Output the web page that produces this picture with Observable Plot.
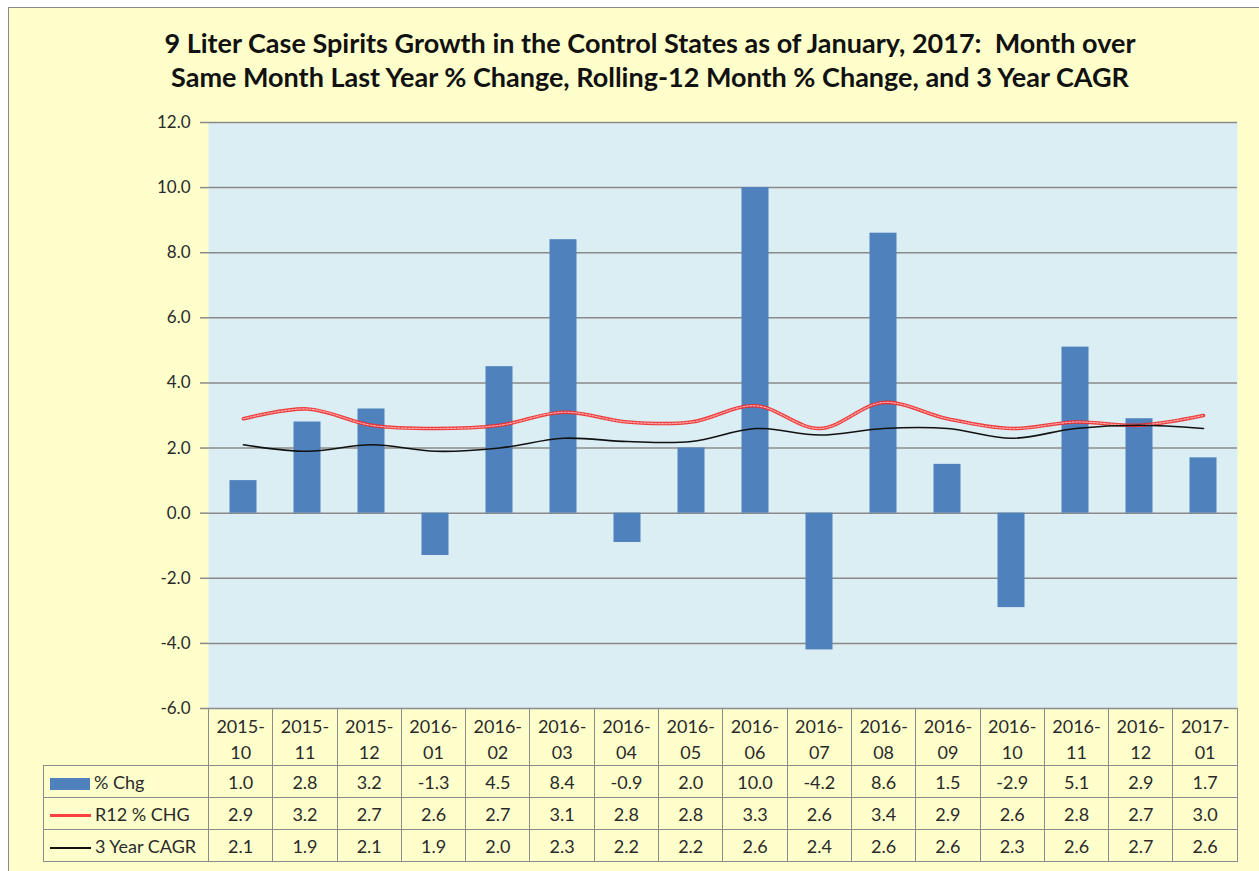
<!DOCTYPE html>
<html>
<head>
<meta charset="utf-8">
<script src="https://cdn.jsdelivr.net/npm/d3@7"></script>
<script src="https://cdn.jsdelivr.net/npm/@observablehq/plot@0.6"></script>
<style>
  html, body { margin: 0; padding: 0; background: #ffffff; }
  body { width: 1259px; height: 871px; overflow: hidden; position: relative; font-family: "Lato", "Open Sans", sans-serif; }
  #frame { position: absolute; left: 8px; top: 7px; width: 1300px; height: 900px; background: #FFFFCC; border: 1px solid #8a8a8a; }
  #title { position: absolute; left: 0; top: 26px; width: 1300px; text-align: center; font-weight: bold; font-size: 27px; line-height: 34px; color: #111; letter-spacing: 0px; }
  #chart { position: absolute; left: 0; top: 100px; }
  #table { position: absolute; left: 43px; top: 708px; border-collapse: collapse; table-layout: fixed; font-size: 18px; color: #2a2a2a; }
  #table td { border: 1.5px solid #8c8c8c; text-align: center; padding: 0; }
  #table td.corner { border-top: none; border-left: none; }
  #table tr.head td { height: 53px; line-height: 26px; padding-top: 3px; }
  #table tr.row td { height: 31px; }
  #table td.lab { text-align: left; padding-left: 6px; white-space: nowrap; }
  .sw { display: inline-block; vertical-align: middle; margin-right: 4px; }
</style>
</head>
<body>
<div id="frame"></div>
<div id="title">9 Liter Case Spirits Growth in the Control States as of January, 2017:&nbsp; Month over<br>Same Month Last Year % Change, Rolling-12 Month % Change, and 3 Year CAGR</div>
<div id="chart"></div>
<table id="table"></table>
<script>
const months = ["2015-10","2015-11","2015-12","2016-01","2016-02","2016-03","2016-04","2016-05","2016-06","2016-07","2016-08","2016-09","2016-10","2016-11","2016-12","2017-01"];
const pctChg = [1.0, 2.8, 3.2, -1.3, 4.5, 8.4, -0.9, 2.0, 10.0, -4.2, 8.6, 1.5, -2.9, 5.1, 2.9, 1.7];
const r12Chg = [2.9, 3.2, 2.7, 2.6, 2.7, 3.1, 2.8, 2.8, 3.3, 2.6, 3.4, 2.9, 2.6, 2.8, 2.7, 3.0];
const cagr3 = [2.1, 1.9, 2.1, 1.9, 2.0, 2.3, 2.2, 2.2, 2.6, 2.4, 2.6, 2.6, 2.3, 2.6, 2.7, 2.6];
const yTicks = [-6, -4, -2, 0, 2, 4, 6, 8, 10, 12];
const seriesNames = ["% Chg", "R12 % CHG", "3 Year CAGR"];

const rows = months.map((m, i) => ({m, chg: pctChg[i], r12: r12Chg[i], cagr: cagr3[i]}));
const fmt = v => v.toFixed(1);

const colW = 64.3;
const chart = Plot.plot({
  width: 1259,
  height: 620,
  marginLeft: 208,
  marginRight: 22,
  marginTop: 22,
  marginBottom: 12,
  style: {background: "transparent", fontFamily: "Lato, 'Open Sans', sans-serif", fontSize: "17px", color: "#2a2a2a"},
  x: {type: "band", domain: months, padding: 0, axis: null},
  y: {domain: [-6, 12], ticks: yTicks, tickFormat: fmt},
  marks: [
    Plot.frame({fill: "#DBEEF4", stroke: "none"}),
    Plot.ruleY(yTicks, {stroke: "#8a8a8a", strokeWidth: 1.5}),
    Plot.axisY({ticks: yTicks, tickFormat: fmt, tickSize: 8, tickPadding: 10, stroke: "#8a8a8a", strokeWidth: 1.5, fill: "#2a2a2a", fontSize: 17}),
    Plot.ruleX([0], {x: () => 0, frameAnchor: "left", stroke: "#8a8a8a", strokeWidth: 1.5}),
    Plot.barY(rows, {x: "m", y: "chg", fill: "#4F81BD", insetLeft: 18.5, insetRight: 18.5}),
    Plot.line(rows, {x: "m", y: "r12", stroke: "#ee2a2a", strokeWidth: 3.6, curve: "catmull-rom", strokeOpacity: 0.9}),
    Plot.line(rows, {x: "m", y: "r12", stroke: "#ffaaaa", strokeWidth: 1.2, curve: "catmull-rom", strokeDasharray: "2,1.5"}),
    Plot.line(rows, {x: "m", y: "cagr", stroke: "#111", strokeWidth: 1.6, curve: "catmull-rom"})
  ]
});
document.getElementById("chart").appendChild(chart);

// data table
const tbl = d3.select("#table");
const cg = tbl.append("colgroup");
cg.append("col").style("width", "165px");
months.forEach(() => cg.append("col").style("width", colW + "px"));
const head = tbl.append("tr").attr("class", "head");
head.append("td").attr("class", "corner");
months.forEach(m => {
  const [a, b] = m.split("-");
  head.append("td").html(a + "-<br>" + b);
});
const swatches = [
  '<span class="sw" style="width:40px;height:12px;background:#4F81BD"></span>',
  '<span class="sw" style="width:41px;height:3px;background:#ff4040"></span>',
  '<span class="sw" style="width:41px;height:2px;background:#111"></span>'
];
[pctChg, r12Chg, cagr3].forEach((vals, k) => {
  const tr = tbl.append("tr").attr("class", "row");
  tr.append("td").attr("class", "lab").html(swatches[k] + seriesNames[k]);
  vals.forEach(v => tr.append("td").text(fmt(v)));
});
</script>
</body>
</html>
